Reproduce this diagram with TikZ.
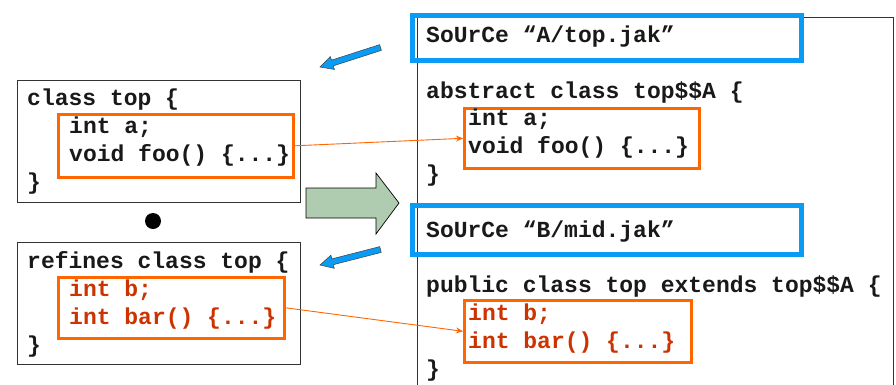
\documentclass[tikz,border=0pt]{standalone}
\usepackage{fontspec}
\newfontfamily\codefont{Liberation Mono}
\usetikzlibrary{arrows.meta,calc}
\definecolor{boxline}{HTML}{333333}
\definecolor{hiorange}{HTML}{FF6600}
\definecolor{redcode}{HTML}{CC3300}
\definecolor{srcblue}{HTML}{0A9BF5}
\definecolor{palegreen}{HTML}{B0CCB0}
\tikzset{
  code/.style={anchor=base west, inner sep=0pt, font=\codefont\bfseries\fontsize{23}{28}\selectfont, text=black!90},
  redline/.style={code, text=redcode},
  classbox/.style={draw=boxline, line width=0.9pt, anchor=north west, inner sep=0pt},
  hibox/.style={draw=hiorange, line width=2.6pt, anchor=north west, inner sep=0pt},
  srcbox/.style={draw=srcblue, line width=4.5pt, anchor=north west, inner sep=0pt},
  link/.style={draw=hiorange, line width=0.9pt, -{Stealth[length=7pt,width=6pt]}},
  blockarrow/.style={draw=black!75, line width=0.5pt, fill=srcblue, line join=miter},
}
% block arrow from #1 (tail) to #2 (tip)
\newcommand\srcpointer[2]{%
  \coordinate (hb) at ($(#2)!13pt!(#1)$);
  \filldraw[blockarrow] (#2)
    -- ($(hb)!6.8pt!90:(#1)$) -- ($(hb)!3pt!90:(#1)$)
    -- ($(#1)!3pt!-90:(hb)$) -- ($(#1)!3pt!90:(hb)$)
    -- ($(hb)!3pt!-90:(#1)$) -- ($(hb)!6.8pt!-90:(#1)$) -- cycle;
}
\begin{document}
\begin{tikzpicture}[x=1pt,y=-1pt]
\useasboundingbox (0,0) rectangle (896,384);

% left: class top and its refinement
\node[classbox, minimum width=283pt, minimum height=122pt] (topbox) at (17,80) {};
\node[hibox, minimum width=235pt, minimum height=63pt] (topbody) at (57,113) {};
\node[code] (t1) at (27,105) {class top \{};
\node[code] (t2) at (69,133) {int a;};
\node[code] (t3) at (69,161) {void foo() \{...\}};
\node[code] (t4) at (27,189) {\}};

\node[circle, fill=black, minimum size=16pt, inner sep=0pt] (compose) at (153,221) {};

\node[classbox, minimum width=283pt, minimum height=122pt] (refbox) at (17,242) {};
\node[hibox, minimum width=226pt, minimum height=61pt] (refbody) at (57,276) {};
\node[code] (r1) at (27,268) {refines class top \{};
\node[redline] (r2) at (69,296) {int b;};
\node[redline] (r3) at (69,324) {int bar() \{...\}};
\node[code] (r4) at (27,352) {\}};

% translation arrow
\filldraw[draw=black, line width=0.7pt, fill=palegreen]
  (306,188) -- (376,188) -- (376,173) -- (399,203) -- (376,234) -- (376,218) -- (306,218) -- cycle;

% right: generated code
\draw[boxline, line width=0.9pt] (417,390) -- (417,17) -- (893,17) -- (893,390);

\node[srcbox, minimum width=389pt, minimum height=45pt] (srcA) at (410,13) {};
\node[code] (s1) at (426,42) {SoUrCe “A/top.jak”};
\node[code] (s2) at (426,98) {abstract class top\$\$A \{};
\node[hibox, minimum width=235pt, minimum height=60pt] (absbody) at (463,107) {};
\node[code] (s3) at (468,125) {int a;};
\node[code] (s4) at (468,153) {void foo() \{...\}};
\node[code] (s5) at (426,181) {\}};

\node[srcbox, minimum width=389pt, minimum height=49pt] (srcB) at (410,203) {};
\node[code] (m1) at (426,237) {SoUrCe “B/mid.jak”};
\node[code] (m2) at (426,292) {public class top extends top\$\$A \{};
\node[hibox, minimum width=227pt, minimum height=62pt] (pubbody) at (463,299) {};
\node[redline] (m3) at (468,320) {int b;};
\node[redline] (m4) at (468,348) {int bar() \{...\}};
\node[code] (m5) at (426,376) {\}};

% member correspondences
\draw[link] (topbody.east) -- (absbody.west);
\draw[link] (refbody.east) -- (pubbody.west);

% blue pointers from each source marker to its class
\coordinate (pA0) at (380.5,47.5);
\coordinate (pA1) at (320,67);
\coordinate (pB0) at (380.5,249.5);
\coordinate (pB1) at (320,265);
\srcpointer{pA0}{pA1}
\srcpointer{pB0}{pB1}
\end{tikzpicture}
\end{document}
